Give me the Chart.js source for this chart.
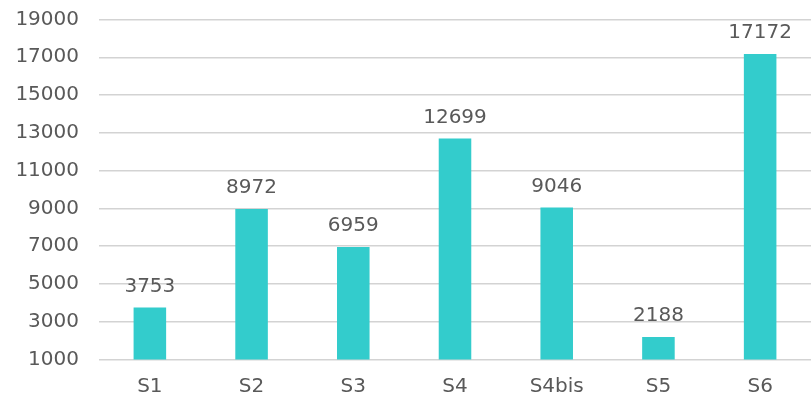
<!DOCTYPE html>
<html>
<head>
<meta charset="utf-8">
<script src="https://cdn.jsdelivr.net/npm/chart.js@4/dist/chart.umd.min.js"></script>
<style>
  html, body { margin: 0; padding: 0; background: #fff; }
  #wrap { width: 811px; height: 398px; }
</style>
</head>
<body>
<div id="wrap"><canvas id="barChart"></canvas></div>
<script>
const categories = ['S1', 'S2', 'S3', 'S4', 'S4bis', 'S5', 'S6'];
const values = [3753, 8972, 6959, 12699, 9046, 2188, 17172];
const yTicks = [1000, 3000, 5000, 7000, 9000, 11000, 13000, 15000, 17000, 19000];

const textColor = '#595959';
const fontFamily = 'DejaVu Sans';
const fontSize = 20;

// value labels above each bar
const valueLabels = {
  id: 'valueLabels',
  afterDatasetsDraw(chart) {
    const ctx = chart.ctx;
    const meta = chart.getDatasetMeta(0);
    ctx.save();
    ctx.font = fontSize + 'px "' + fontFamily + '"';
    ctx.fillStyle = textColor;
    ctx.textAlign = 'center';
    ctx.textBaseline = 'middle';
    meta.data.forEach((bar, i) => {
      ctx.fillText(String(values[i]), bar.x, bar.y - 21);
    });
    ctx.restore();
  }
};

const ctx = document.getElementById('barChart').getContext('2d');
new Chart(ctx, {
  type: 'bar',
  data: {
    labels: categories,
    datasets: [{
      data: values,
      backgroundColor: '#33CCCC',
      categoryPercentage: 1,
      barPercentage: 0.32,
    }],
  },
  options: {
    responsive: true,
    maintainAspectRatio: false,
    animation: false,
    layout: { padding: { top: 19.5, right: 0, left: 15, bottom: 0 } },
    plugins: {
      legend: { display: false },
      tooltip: { enabled: false },
    },
    scales: {
      x: {
        afterFit(axis) {
          axis.height = 38.5;
          axis.paddingLeft = 0;
          axis.paddingRight = 0;
        },
        grid: { display: false, drawTicks: false },
        border: { display: false },
        ticks: { color: textColor, font: { family: fontFamily, size: fontSize }, padding: 15 },
      },
      y: {
        min: 1000,
        max: 19000,
        afterBuildTicks(axis) {
          axis.ticks = yTicks.map(v => ({ value: v }));
        },
        afterFit(axis) {
          axis.width = 84;
          axis.paddingTop = 0;
          axis.paddingBottom = 0;
        },
        grid: { color: '#d3d3d3', lineWidth: 1.5, drawTicks: false },
        border: { display: false },
        ticks: {
          color: textColor,
          font: { family: fontFamily, size: fontSize },
          padding: 20,
          callback: v => String(v),
        },
      },
    },
  },
  plugins: [valueLabels],
});
</script>
</body>
</html>
